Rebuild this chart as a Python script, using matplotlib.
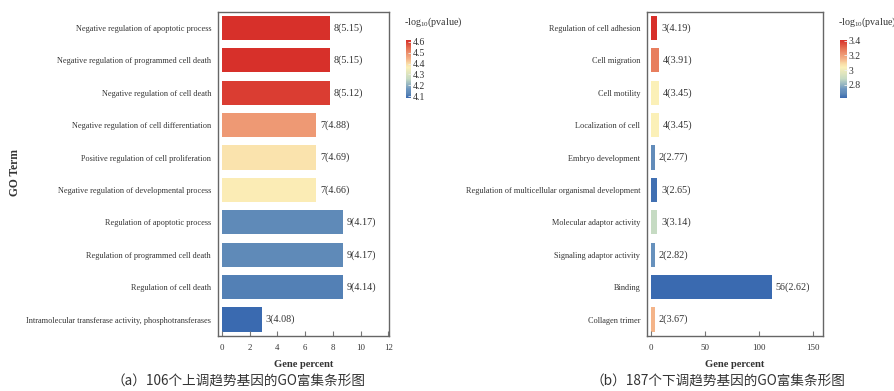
import matplotlib
matplotlib.use("Agg")
import matplotlib.pyplot as plt
import numpy as np
from matplotlib.colors import LinearSegmentedColormap, Normalize
from matplotlib.cm import ScalarMappable

plt.rcParams['font.family'] = ['Liberation Serif', 'DejaVu Serif']
plt.rcParams['mathtext.fontset'] = 'custom'
plt.rcParams['mathtext.rm'] = 'Liberation Serif'

# 上调基因 (a)
up_terms = [
    "Negative regulation of apoptotic process",
    "Negative regulation of programmed cell death",
    "Negative regulation of cell death",
    "Negative regulation of cell differentiation",
    "Positive regulation of cell proliferation",
    "Negative regulation of developmental process",
    "Regulation of apoptotic process",
    "Regulation of programmed cell death",
    "Regulation of cell death",
    "Intramolecular transferase activity, phosphotransferases",
]
up_counts = [8, 8, 8, 7, 7, 7, 9, 9, 9, 3]
up_percent = [7.77, 7.77, 7.77, 6.80, 6.80, 6.80, 8.74, 8.74, 8.74, 2.91]
up_logp = [5.15, 5.15, 5.12, 4.88, 4.69, 4.66, 4.17, 4.17, 4.14, 4.08]
up_cbar_ticks = [4.1, 4.2, 4.3, 4.4, 4.5, 4.6]

# 下调基因 (b)
down_terms = [
    "Regulation of cell adhesion",
    "Cell migration",
    "Cell motility",
    "Localization of cell",
    "Embryo development",
    "Regulation of multicellular organismal development",
    "Molecular adaptor activity",
    "Signaling adaptor activity",
    "Binding",
    "Collagen trimer",
]
down_counts = [3, 4, 4, 4, 2, 3, 3, 2, 56, 2]
down_percent = [6, 8, 8, 8, 4, 6, 6, 4, 112, 4]
down_logp = [4.19, 3.91, 3.45, 3.45, 2.77, 2.65, 3.14, 2.82, 2.62, 3.67]
down_cbar_ticks = [2.8, 3.0, 3.2, 3.4]

# 颜色渐变: 蓝 -> 浅黄 -> 红
cmap = LinearSegmentedColormap.from_list("go", [
    (0.0, "#3a6ab0"), (0.08, "#5f8ab8"), (0.15, "#6c95c0"),
    (0.33, "#c6dbc3"), (0.53, "#fbf0b8"), (0.6, "#f9d9a4"),
    (0.67, "#f4b489"), (0.78, "#ec8f6c"), (0.86, "#e57052"),
    (1.0, "#d7302a")])

fig = plt.figure(figsize=(8.95, 3.91), dpi=100)


def draw_panel(ax_rect, cb_rect, terms, counts, percent, logp, xlim, xticks,
               cb_range, cb_ticks, cb_fmt):
    ax = fig.add_axes(ax_rect)
    norm = Normalize(min(logp), max(logp))
    y = np.arange(len(terms))
    ax.barh(y, percent, height=0.75, color=cmap(norm(np.array(logp))))
    off = (xlim[1] - xlim[0]) * 0.022
    for yi, p, c, lp in zip(y, percent, counts, logp):
        ax.text(p + off, yi, f"{c}({lp:.2f})", va='center', ha='left',
                fontsize=7.3, color='#333333')
    ax.set_ylim(len(terms) - 0.5, -0.5)
    ax.set_xlim(*xlim)
    ax.set_yticks(y)
    ax.set_yticklabels(terms, fontsize=5.95, color='#333333')
    ax.set_xticks(xticks)
    ax.tick_params(axis='y', length=0, pad=5)
    ax.tick_params(axis='x', direction='in', length=3.5, color='#777777',
                   labelsize=6.3, labelcolor='#333333', pad=6)
    for s in ax.spines.values():
        s.set_color('#666666')
        s.set_linewidth(1.0)
    ax.set_xlabel("Gene percent", fontsize=7.6, fontweight='bold',
                  color='#333333', labelpad=6)

    cax = fig.add_axes(cb_rect)
    sm = ScalarMappable(norm=Normalize(*cb_range), cmap=cmap)
    cb = fig.colorbar(sm, cax=cax, ticks=cb_ticks, format=cb_fmt)
    cb.outline.set_visible(False)
    cax.tick_params(direction='in', length=2, width=0.6, color='#eeeeee',
                    labelsize=7, labelcolor='#333333', pad=1.5)
    fig.text(cb_rect[0] - 0.002, 0.943, r"-log$_{10}$(pvalue)", fontsize=7.2,
             color='#333333', ha='left', va='center')
    return ax


draw_panel([0.2436, 0.1414, 0.1911, 0.8286], [0.4536, 0.7494, 0.0056, 0.1483],
           up_terms, up_counts, up_percent, up_logp, (-0.27, 12.05),
           [0, 2, 4, 6, 8, 10, 12], (4.085, 4.615), up_cbar_ticks, "%.1f")
draw_panel([0.7232, 0.1414, 0.196, 0.8286], [0.9385, 0.7494, 0.0078, 0.1483],
           down_terms, down_counts, down_percent, down_logp, (-3.1, 159),
           [0, 50, 100, 150], (2.62, 3.41), down_cbar_ticks, "%g")

fig.text(15 / 895, 1 - 172 / 391, "GO Term", rotation=90, fontsize=8.3,
         fontweight='bold', color='#333333', ha='center', va='center')

cap_font = ['Noto Sans CJK SC', 'DejaVu Sans']
fig.text(239 / 895, 1 - 382 / 391, "（a）106个上调趋势基因的GO富集条形图",
         family=cap_font, fontsize=9.8, color='#333333', ha='center', va='center')
fig.text(718 / 895, 1 - 382 / 391, "（b）187个下调趋势基因的GO富集条形图",
         family=cap_font, fontsize=9.8, color='#333333', ha='center', va='center')

fig.savefig("out.png", dpi=100)
